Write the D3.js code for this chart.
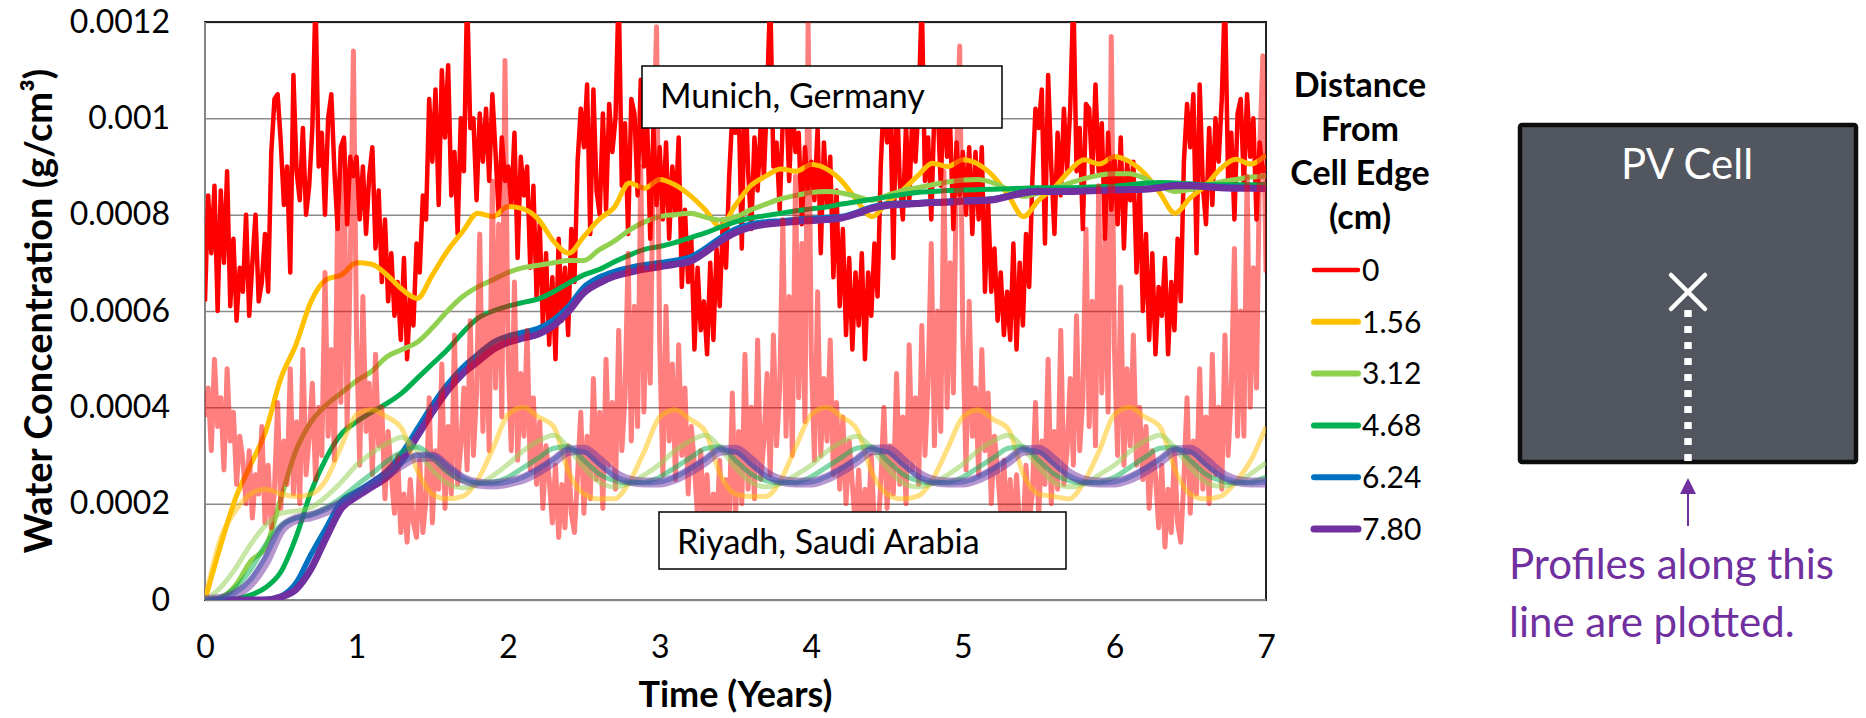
<!DOCTYPE html>
<html>
<head>
<meta charset="utf-8">
<script src="https://cdn.jsdelivr.net/npm/d3@7"></script>
<style>
  body { margin: 0; background: #fff; }
  svg text { font-family: Lato, "Open Sans", sans-serif; }
</style>
</head>
<body>
<svg id="chart" width="1866" height="718"></svg>
<script>
// all concentrations below are in units of 1e-4 g/cm3
var UNIT = 1e-4;

var yTicks = [0, 0.0002, 0.0004, 0.0006, 0.0008, 0.001, 0.0012];
var xTicks = [0, 1, 2, 3, 4, 5, 6, 7];
var distances = ["0", "1.56", "3.12", "4.68", "6.24", "7.80"];
var colors = ["#ff0000", "#ffc000", "#92d050", "#00b050", "#0070c0", "#7030a0"];

// edge (0 cm) series are sampled 48 times a year, the others every 0.1 year
var tEdge = d3.range(0, 7 * 48 + 1).map(function(i) { return i / 48; });
var tInner = d3.range(0, 71).map(function(i) { return i / 10; });

// Munich, Germany
var munich0 = [
  6.2,8.4,7.2,8.6,6.0,8.5,7.0,8.9,6.1,7.5,5.8,6.9,6.4,8.0,5.9,7.0,8.0,6.2,6.6,7.6,6.4,9.3,10.4,10.5,9.5,8.2,9.0,6.8,10.9,8.9,8.3,9.8,8.0,8.6,9.8,12.5,9.0,9.7,8.0,10.0,10.5,8.9,7.7,9.4,9.6,7.8,9.2,8.8,
  9.2,7.9,9.0,7.6,8.8,9.4,7.3,8.5,6.6,7.9,6.2,7.2,5.9,6.6,5.4,7.1,5.0,6.3,5.7,7.4,6.8,8.4,7.9,10.4,9.1,10.6,8.2,11.0,9.6,11.1,8.4,9.3,7.6,10.0,8.9,12.6,9.8,10.0,8.3,10.1,9.1,10.2,8.7,10.5,9.3,8.0,9.6,8.7,
  9.0,8.2,9.7,7.1,9.2,8.4,9.0,6.9,8.6,6.3,7.8,5.7,7.2,5.3,6.7,5.0,7.5,5.8,6.9,5.5,7.7,6.6,9.1,10.2,9.4,10.7,7.6,10.6,8.5,8.0,10.1,8.1,10.3,9.3,10.0,12.7,8.6,9.9,7.6,10.4,10.1,8.4,10.8,9.0,10.0,7.5,9.8,8.2,
  9.4,7.9,9.5,7.5,9.0,8.0,9.6,6.5,8.1,6.6,7.5,5.2,6.9,5.6,6.2,5.1,7.0,5.4,7.3,6.1,7.9,6.9,8.8,10.1,9.7,10.3,7.3,11.0,8.9,7.7,9.6,8.5,9.9,8.8,10.5,12.6,9.0,9.5,8.1,10.0,10.5,8.7,10.4,9.3,9.7,7.8,9.4,8.5,
  9.1,8.3,9.8,7.2,9.5,8.2,9.2,6.7,8.5,6.1,7.7,5.5,7.1,5.2,6.8,5.7,7.2,5.0,6.8,5.9,7.4,6.3,9.0,10.5,9.5,10.4,7.1,10.8,8.7,7.9,9.9,8.2,10.1,9.1,10.3,12.5,8.7,9.6,7.9,10.2,10.3,8.6,10.6,9.2,9.8,7.7,9.5,8.4,
  9.3,8.0,9.4,7.6,9.3,7.9,9.4,6.4,8.3,6.4,7.3,5.8,6.8,5.5,6.4,5.4,7.4,5.2,7.0,5.7,7.6,6.5,8.7,10.2,9.8,10.6,7.4,10.9,9.0,7.6,9.7,8.4,10.2,8.9,10.2,12.6,8.9,9.8,7.7,10.3,10.2,8.8,10.7,8.9,9.9,7.5,9.7,8.1,
  9.2,7.8,9.6,7.3,9.1,8.3,9.1,6.8,8.6,6.0,7.6,5.4,7.2,5.1,6.5,5.9,7.1,5.1,6.6,5.6,7.5,6.2,9.1,10.3,9.4,10.5,7.2,10.7,8.6,7.8,9.8,8.2,10.0,9.1,10.4,12.6,8.7,9.7,7.9,10.1,10.4,8.6,10.5,9.2,10.0,7.9,9.5,8.9,
  9.0
];
var munich156 = [
  0,1.1,2.1,2.8,3.5,4.6,5.3,6.2,6.65,6.75,
  7.0,6.97,6.75,6.45,6.26,6.75,7.25,7.65,8.03,7.96,
  8.17,8.12,7.9,7.45,7.2,7.55,7.9,8.15,8.66,8.55,
  8.73,8.62,8.4,8.1,7.75,8.2,8.6,8.8,8.95,8.9,
  9.04,8.95,8.7,8.3,7.96,8.25,8.5,8.8,9.07,9.0,
  9.14,9.05,8.8,8.4,7.96,8.3,8.55,8.9,9.14,9.05,
  9.2,9.1,8.85,8.45,8.03,8.35,8.6,8.95,9.15,9.05,
  9.24
];
var munich312 = [
  0,0.05,0.3,0.8,1.1,2.1,3.1,3.7,4.05,4.3,
  4.55,4.75,5.05,5.2,5.35,5.65,6.0,6.3,6.5,6.65,
  6.8,6.9,6.95,7.0,7.05,7.05,7.27,7.45,7.68,7.85,
  7.96,8.0,8.03,7.95,7.89,7.95,8.1,8.22,8.33,8.4,
  8.46,8.48,8.45,8.38,8.3,8.4,8.5,8.56,8.62,8.68,
  8.72,8.73,8.66,8.52,8.38,8.45,8.55,8.65,8.75,8.82,
  8.85,8.85,8.75,8.6,8.48,8.52,8.6,8.68,8.73,8.78,
  8.8
];
var munich468 = [
  0,0,0.02,0.1,0.26,0.58,1.3,2.25,2.95,3.45,
  3.7,3.9,4.08,4.3,4.6,4.9,5.2,5.55,5.85,6.0,
  6.1,6.18,6.25,6.4,6.58,6.75,6.86,7.02,7.16,7.28,
  7.34,7.42,7.52,7.62,7.74,7.85,7.93,7.98,8.03,8.08,
  8.12,8.16,8.22,8.27,8.32,8.37,8.42,8.46,8.48,8.5,
  8.51,8.52,8.53,8.54,8.55,8.56,8.56,8.56,8.57,8.58,
  8.59,8.62,8.65,8.67,8.66,8.64,8.62,8.62,8.62,8.62,
  8.63
];
var munich624 = [
  0,0,0,0,0.01,0.08,0.35,0.95,1.5,2.05,
  2.25,2.45,2.68,3.05,3.55,4.05,4.48,4.83,5.1,5.35,
  5.48,5.56,5.64,5.82,6.1,6.5,6.7,6.82,6.9,6.96,
  7.0,7.05,7.12,7.3,7.52,7.7,7.8,7.85,7.87,7.9,
  7.92,7.94,7.96,8.05,8.16,8.22,8.24,8.25,8.27,8.28,
  8.3,8.31,8.33,8.4,8.47,8.5,8.5,8.5,8.5,8.51,
  8.52,8.53,8.54,8.58,8.62,8.62,8.6,8.58,8.57,8.56,
  8.55
];
var munich780 = [
  0,0,0,0,0,0.06,0.22,0.65,1.3,1.9,
  2.15,2.35,2.55,2.9,3.4,3.9,4.35,4.7,4.95,5.2,
  5.35,5.44,5.52,5.7,6.0,6.38,6.58,6.72,6.8,6.87,
  6.92,6.97,7.03,7.22,7.45,7.63,7.74,7.8,7.83,7.86,
  7.88,7.9,7.93,8.02,8.13,8.19,8.21,8.23,8.25,8.26,
  8.28,8.29,8.31,8.38,8.45,8.48,8.48,8.48,8.49,8.5,
  8.51,8.52,8.53,8.56,8.6,8.6,8.58,8.56,8.55,8.55,
  8.54
];

// Riyadh, Saudi Arabia
var riyadh0 = [
  3.8,4.4,3.1,5.0,3.6,4.2,2.7,4.8,3.3,3.9,2.4,3.4,2.9,2.0,3.1,1.7,2.6,2.2,3.6,1.6,2.8,1.5,2.3,4.1,1.9,3.3,2.4,4.8,2.2,3.7,2.0,5.2,2.6,3.4,4.5,2.5,4.0,3.0,6.8,3.4,5.2,2.9,8.0,4.1,9.5,3.6,7.0,11.4,
  5.4,2.8,6.3,3.5,4.5,2.6,5.1,3.2,4.0,2.1,3.5,2.6,1.8,3.0,1.4,2.2,1.2,2.5,1.6,1.3,2.9,1.4,2.1,4.2,1.6,3.1,2.3,4.9,1.9,3.6,2.2,5.5,2.4,3.2,4.4,2.7,5.8,3.0,4.3,7.6,3.5,5.9,3.1,8.7,4.4,7.8,3.8,11.2,
  5.0,3.1,6.6,2.9,4.7,3.4,5.6,2.7,4.2,2.4,3.7,1.9,3.2,2.5,1.6,2.8,1.3,2.4,1.5,3.2,1.8,1.4,2.6,3.9,1.8,3.4,2.1,4.6,2.5,3.9,1.9,5.0,2.8,4.1,2.3,5.6,3.1,4.2,7.2,3.3,6.1,3.6,9.0,3.9,6.8,4.5,9.4,11.9,
  5.3,2.6,6.1,3.3,4.9,2.5,5.3,3.0,4.4,2.2,3.6,2.8,1.7,3.1,1.5,2.6,1.2,2.2,1.4,2.9,1.3,2.5,1.6,4.3,1.7,3.5,2.0,5.1,2.3,4.0,2.1,5.4,2.5,3.3,4.7,2.6,5.5,3.2,4.4,7.9,3.4,6.3,3.0,8.8,4.2,7.4,3.7,12.0,
  5.1,2.9,6.4,3.0,4.6,3.3,5.4,2.6,4.1,2.3,3.8,2.0,3.3,2.4,1.5,2.7,1.3,2.3,1.6,3.0,1.5,1.3,2.4,4.0,1.9,3.2,2.2,4.7,2.4,3.8,2.0,5.3,2.7,4.2,2.4,5.7,3.0,4.5,7.4,3.2,6.0,3.5,8.9,4.0,7.0,4.3,9.2,11.5,
  5.5,2.7,6.2,3.4,4.4,2.6,5.2,3.1,4.3,2.0,3.4,2.7,1.8,2.9,1.4,2.5,1.2,2.6,1.5,1.3,2.8,1.6,2.2,4.1,1.7,3.3,2.4,5.0,2.0,3.5,2.3,5.6,2.4,3.1,4.6,2.8,5.9,3.1,4.2,7.7,3.6,6.2,3.2,8.6,4.3,7.6,3.9,11.7,
  5.2,3.0,6.5,2.8,4.8,3.2,5.5,2.8,4.0,2.5,3.6,1.9,3.1,2.6,1.5,2.8,1.1,2.3,1.4,3.1,1.6,1.2,2.5,4.2,1.8,3.3,2.2,4.8,2.3,3.8,2.0,5.1,2.6,4.0,2.3,5.5,3.0,4.3,7.3,3.4,6.0,3.4,8.8,4.0,6.9,4.4,9.3,11.3,
  6.8
];
var riyadh156 = [
  0,1.25,1.85,2.2,2.3,2.2,2.15,2.2,2.5,3.2,
  3.85,3.95,3.8,3.55,2.7,2.2,2.1,2.15,2.5,3.15,
  3.85,4.0,3.8,3.6,2.65,2.2,2.1,2.1,2.45,3.1,
  3.8,3.95,3.75,3.5,2.6,2.2,2.15,2.15,2.5,3.2,
  3.85,4.0,3.8,3.55,2.65,2.2,2.1,2.15,2.5,3.15,
  3.8,3.95,3.75,3.55,2.6,2.2,2.15,2.1,2.45,3.1,
  3.85,4.0,3.8,3.6,2.7,2.2,2.1,2.15,2.45,2.9,
  3.6
];
var riyadh312 = [
  0,0.25,0.65,1.15,1.55,1.8,1.85,1.92,2.15,2.45,
  2.8,3.05,3.25,3.38,3.1,2.7,2.42,2.33,2.4,2.58,
  2.82,3.1,3.3,3.42,3.15,2.75,2.45,2.35,2.42,2.6,
  2.82,3.1,3.3,3.42,3.15,2.75,2.45,2.35,2.42,2.6,
  2.8,3.08,3.28,3.4,3.14,2.74,2.44,2.35,2.42,2.6,
  2.82,3.1,3.3,3.42,3.15,2.76,2.45,2.35,2.41,2.6,
  2.8,3.08,3.3,3.42,3.15,2.75,2.45,2.36,2.42,2.62,
  2.85
];
var riyadh468 = [
  0,0.05,0.25,0.62,1.15,1.55,1.7,1.78,1.92,2.12,
  2.38,2.62,2.88,3.08,3.18,2.95,2.65,2.48,2.43,2.45,
  2.55,2.75,2.95,3.15,3.18,2.9,2.62,2.48,2.43,2.45,
  2.55,2.75,2.95,3.14,3.18,2.9,2.62,2.48,2.43,2.45,
  2.56,2.76,2.96,3.15,3.18,2.9,2.62,2.48,2.43,2.45,
  2.55,2.75,2.95,3.15,3.18,2.9,2.62,2.48,2.43,2.45,
  2.55,2.75,2.96,3.15,3.17,2.9,2.62,2.48,2.43,2.45,
  2.55
];
var riyadh624 = [
  0,0.03,0.15,0.42,0.9,1.5,1.7,1.76,1.88,2.03,
  2.2,2.4,2.6,2.85,3.0,3.0,2.78,2.55,2.43,2.41,
  2.45,2.55,2.72,2.92,3.12,3.08,2.82,2.58,2.46,2.43,
  2.45,2.55,2.72,2.92,3.12,3.08,2.82,2.58,2.46,2.43,
  2.45,2.56,2.73,2.93,3.13,3.08,2.82,2.58,2.46,2.43,
  2.45,2.55,2.72,2.92,3.12,3.08,2.82,2.58,2.46,2.43,
  2.45,2.55,2.72,2.92,3.12,3.08,2.82,2.58,2.46,2.43,
  2.45
];
var riyadh780 = [
  0,0.02,0.12,0.35,0.8,1.45,1.68,1.74,1.85,2.0,
  2.18,2.38,2.6,2.82,2.97,2.98,2.75,2.52,2.42,2.4,
  2.44,2.52,2.68,2.88,3.1,3.12,2.9,2.63,2.48,2.44,
  2.44,2.52,2.68,2.88,3.1,3.12,2.9,2.63,2.48,2.44,
  2.44,2.53,2.69,2.89,3.11,3.13,2.9,2.63,2.48,2.44,
  2.44,2.52,2.68,2.88,3.1,3.12,2.9,2.63,2.48,2.44,
  2.44,2.52,2.68,2.88,3.1,3.12,2.9,2.63,2.48,2.44,
  2.44
];

var munichSeries = [munich0, munich156, munich312, munich468, munich624, munich780];
var riyadhSeries = [riyadh0, riyadh156, riyadh312, riyadh468, riyadh624, riyadh780];
var munichWidths = [4.5, 5, 5, 5, 5.5, 7];
var riyadhWidths = [5, 5, 5, 5, 5, 10];

var svg = d3.select("#chart");
var X0 = 205, X1 = 1266, Y0 = 22, Y1 = 600;

var x = d3.scaleLinear().domain([0, 7]).range([X0, X1]);
var y = d3.scaleLinear().domain([0, 0.0012]).range([Y1, Y0]);

svg.append("defs").append("clipPath").attr("id", "plotclip")
  .append("rect")
  .attr("x", X0).attr("y", Y0)
  .attr("width", X1 - X0).attr("height", Y1 - Y0);

// gridlines
svg.append("g")
  .attr("transform", "translate(" + X0 + ",0)")
  .call(d3.axisLeft(y).tickValues(yTicks).tickSize(-(X1 - X0)).tickFormat(""))
  .call(function(g) { g.select(".domain").remove(); })
  .selectAll("line")
  .attr("stroke", "#8a8a8a")
  .attr("stroke-width", 1.5);

// plot frame: black top/right, grey axes
svg.append("rect")
  .attr("x", X0).attr("y", Y0)
  .attr("width", X1 - X0).attr("height", Y1 - Y0)
  .attr("fill", "none").attr("stroke", "#222").attr("stroke-width", 2);
svg.append("line").attr("x1", X0).attr("x2", X0).attr("y1", Y0).attr("y2", Y1)
  .attr("stroke", "#868686").attr("stroke-width", 2);
svg.append("line").attr("x1", X0).attr("x2", X1).attr("y1", Y1).attr("y2", Y1)
  .attr("stroke", "#868686").attr("stroke-width", 2);

// tick labels
var yAxis = svg.append("g")
  .attr("transform", "translate(" + X0 + ",0)")
  .call(d3.axisLeft(y).tickValues(yTicks).tickSize(0).tickPadding(35)
    .tickFormat(function(d) { return d === 0 ? "0" : String(+d.toFixed(4)); }));
yAxis.select(".domain").remove();
yAxis.selectAll("text").attr("font-size", 32).attr("fill", "#000")
  .style("font-family", "Lato, sans-serif");

var xAxis = svg.append("g")
  .attr("transform", "translate(0," + Y1 + ")")
  .call(d3.axisBottom(x).tickValues(xTicks).tickSize(0).tickPadding(35).tickFormat(d3.format("d")));
xAxis.select(".domain").remove();
xAxis.selectAll("text").attr("font-size", 32).attr("fill", "#000")
  .style("font-family", "Lato, sans-serif");

// axis titles
svg.append("text")
  .attr("transform", "translate(52,311) rotate(-90)")
  .attr("text-anchor", "middle")
  .attr("font-size", 38).attr("font-weight", "bold")
  .text("Water Concentration (g/cm³)");
svg.append("text")
  .attr("x", (X0 + X1) / 2).attr("y", 707)
  .attr("text-anchor", "middle")
  .attr("font-size", 36).attr("font-weight", "bold")
  .text("Time (Years)");

// series
function lineFor(times, curve) {
  return d3.line()
    .x(function(d, i) { return x(times[i]); })
    .y(function(d) { return y(d * UNIT); })
    .curve(curve);
}

var plot = svg.append("g").attr("clip-path", "url(#plotclip)");

munichSeries.forEach(function(s, k) {
  var times = k === 0 ? tEdge : tInner;
  plot.append("path")
    .datum(s)
    .attr("fill", "none")
    .attr("stroke", colors[k])
    .attr("stroke-width", munichWidths[k])
    .attr("stroke-linejoin", "round")
    .attr("d", lineFor(times, k === 0 ? d3.curveLinear : d3.curveMonotoneX));
});

riyadhSeries.forEach(function(s, k) {
  var times = k === 0 ? tEdge : tInner;
  plot.append("path")
    .datum(s)
    .attr("fill", "none")
    .attr("stroke", colors[k])
    .attr("stroke-opacity", 0.5)
    .attr("stroke-width", riyadhWidths[k])
    .attr("stroke-linejoin", "round")
    .attr("d", lineFor(times, k === 0 ? d3.curveLinear : d3.curveMonotoneX));
});

// city labels
function labelBox(x0, y0, w, h, tx, ty, label) {
  svg.append("rect")
    .attr("x", x0).attr("y", y0).attr("width", w).attr("height", h)
    .attr("fill", "#fff").attr("stroke", "#000").attr("stroke-width", 1.5);
  svg.append("text")
    .attr("x", tx).attr("y", ty)
    .attr("font-size", 34)
    .text(label);
}
labelBox(642, 66, 360, 62, 660, 108, "Munich, Germany");
labelBox(659, 512, 407, 57, 677, 554, "Riyadh, Saudi Arabia");

// legend
var legendTitle = ["Distance", "From", "Cell Edge", "(cm)"];
svg.append("g").selectAll("text")
  .data(legendTitle)
  .enter().append("text")
  .attr("x", 1360)
  .attr("y", function(d, i) { return 97 + i * 44; })
  .attr("text-anchor", "middle")
  .attr("font-size", 34).attr("font-weight", "bold")
  .text(function(d) { return d; });

var legend = svg.append("g").selectAll("g")
  .data(distances)
  .enter().append("g")
  .attr("transform", function(d, i) { return "translate(0," + (270 + i * 51.8) + ")"; });
legend.append("line")
  .attr("x1", 1314).attr("x2", 1358)
  .attr("stroke", function(d, i) { return colors[i]; })
  .attr("stroke-width", function(d, i) { return i === 0 ? 4.5 : (i === 5 ? 7 : 6); })
  .attr("stroke-linecap", "round");
legend.append("text")
  .attr("x", 1362).attr("dy", "0.36em")
  .attr("font-size", 30)
  .text(function(d) { return d; });

// PV cell sketch
var cell = svg.append("g");
cell.append("rect")
  .attr("x", 1520).attr("y", 125).attr("width", 336).attr("height", 337)
  .attr("rx", 2)
  .attr("fill", "#52565e").attr("stroke", "#0d0d0d").attr("stroke-width", 4.5);
cell.append("text")
  .attr("x", 1687).attr("y", 179)
  .attr("text-anchor", "middle")
  .attr("font-size", 42).attr("fill", "#fff")
  .text("PV Cell");
cell.append("path")
  .attr("d", "M1671,275L1705,309M1705,275L1671,309")
  .attr("stroke", "#fff").attr("stroke-width", 4.5).attr("stroke-linecap", "round");
cell.append("line")
  .attr("x1", 1688).attr("x2", 1688).attr("y1", 310).attr("y2", 462)
  .attr("stroke", "#fff").attr("stroke-width", 7.5).attr("stroke-dasharray", "7,9");
cell.append("line")
  .attr("x1", 1688).attr("x2", 1688).attr("y1", 492).attr("y2", 526)
  .attr("stroke", "#7030a0").attr("stroke-width", 2);
cell.append("path")
  .attr("d", "M1688,478L1680,494L1696,494Z")
  .attr("fill", "#7030a0");
cell.append("text")
  .attr("x", 1509).attr("y", 579)
  .attr("font-size", 42).attr("fill", "#7030a0")
  .text("Profiles along this");
cell.append("text")
  .attr("x", 1509).attr("y", 637)
  .attr("font-size", 42).attr("fill", "#7030a0")
  .text("line are plotted.");
</script>
</body>
</html>
